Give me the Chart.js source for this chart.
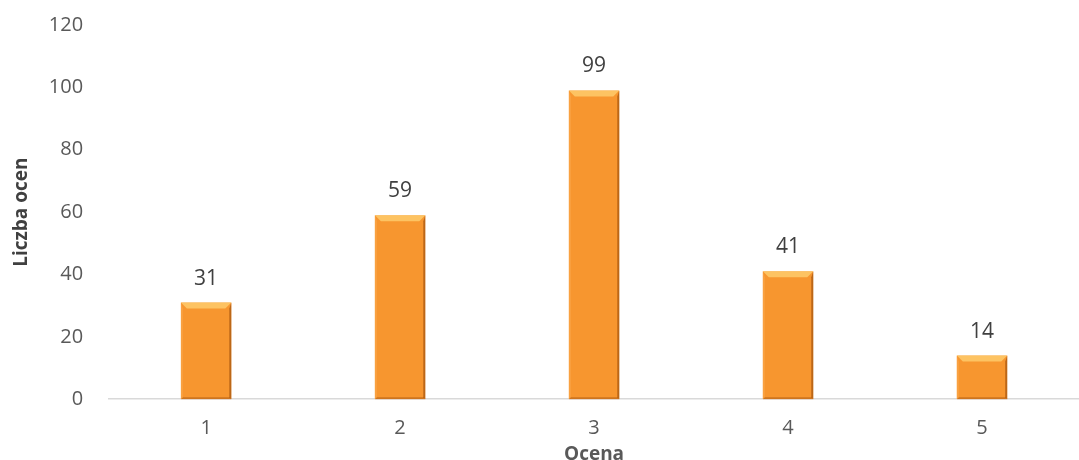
<!DOCTYPE html>
<html>
<head>
<meta charset="utf-8">
<script src="https://cdn.jsdelivr.net/npm/chart.js@4"></script>
<style>
  html, body { margin: 0; padding: 0; background: #fff; }
  #wrap { width: 1079px; height: 460px; }
</style>
</head>
<body>
<div id="wrap"><canvas id="chart"></canvas></div>
<script>
// data
var grades = ['1', '2', '3', '4', '5'];
var counts = [31, 59, 99, 41, 14];
var yTicks = [0, 20, 40, 60, 80, 100, 120];

var FONT = "'Open Sans', 'Noto Sans', sans-serif";

// bevel look on the bars, drawn on top of the library's bars
var bevelPlugin = {
  id: 'bevel',
  afterDatasetsDraw: function(chart) {
    var ctx = chart.ctx;
    chart.getDatasetMeta(0).data.forEach(function(bar) {
      var w = bar.width, l = bar.x - w / 2, r = bar.x + w / 2;
      var t = bar.y, b = bar.base, e = 6;
      ctx.save();
      // top edge, light
      ctx.fillStyle = 'rgba(255,214,120,0.7)';
      ctx.beginPath();
      ctx.moveTo(l, t); ctx.lineTo(r, t); ctx.lineTo(r - e, t + e); ctx.lineTo(l + e, t + e);
      ctx.closePath(); ctx.fill();
      // left edge
      ctx.fillStyle = 'rgba(255,190,110,0.3)';
      ctx.beginPath();
      ctx.moveTo(l, t); ctx.lineTo(l + 2, t + e); ctx.lineTo(l + 2, b - 2); ctx.lineTo(l, b);
      ctx.closePath(); ctx.fill();
      // right edge, dark
      ctx.fillStyle = 'rgba(130,55,0,0.5)';
      ctx.beginPath();
      ctx.moveTo(r, t); ctx.lineTo(r - 2, t + e); ctx.lineTo(r - 2, b - 2); ctx.lineTo(r, b);
      ctx.closePath(); ctx.fill();
      // bottom edge, dark
      ctx.fillStyle = 'rgba(130,55,0,0.35)';
      ctx.beginPath();
      ctx.moveTo(l, b); ctx.lineTo(r, b); ctx.lineTo(r - 2, b - 2); ctx.lineTo(l + 2, b - 2);
      ctx.closePath(); ctx.fill();
      ctx.restore();
    });
  }
};

// value labels above bars
var valueLabels = {
  id: 'valueLabels',
  afterDatasetsDraw: function(chart) {
    var ctx = chart.ctx;
    var ds = chart.data.datasets[0];
    ctx.save();
    ctx.font = '21px ' + FONT;
    ctx.fillStyle = '#404040';
    ctx.textAlign = 'center';
    ctx.textBaseline = 'middle';
    chart.getDatasetMeta(0).data.forEach(function(bar, i) {
      ctx.fillText(ds.data[i], bar.x, bar.y - 24);
    });
    ctx.restore();
  }
};

var ctx = document.getElementById('chart').getContext('2d');

function barFill(context) {
  var bar = context.element;
  if (!context.chart.chartArea || !bar || bar.base === undefined) return '#F7962F';
  var g = context.chart.ctx.createLinearGradient(0, bar.y, 0, bar.base);
  g.addColorStop(0, '#FC9D35');
  g.addColorStop(1, '#EF8B25');
  return g;
}

new Chart(ctx, {
  type: 'bar',
  data: {
    labels: grades,
    datasets: [{
      data: counts,
      backgroundColor: barFill,
      borderWidth: 0,
      barPercentage: 0.52,
      categoryPercentage: 0.5
    }]
  },
  options: {
    responsive: true,
    maintainAspectRatio: false,
    animation: false,
    layout: { padding: { top: 25, right: 0, left: 9, bottom: -6 } },
    plugins: {
      legend: { display: false },
      tooltip: { enabled: false }
    },
    scales: {
      x: {
        grid: { display: false, drawTicks: false },
        border: { display: true, color: '#d9d9d9', width: 1.5 },
        ticks: { color: '#595959', font: { family: FONT, size: 20 }, padding: 17 },
        title: {
          display: true, text: 'Ocena', color: '#595959',
          font: { family: FONT, size: 19, weight: 'bold' }, padding: { top: -14, bottom: 0 }
        }
      },
      y: {
        min: 0, max: 120,
        afterBuildTicks: function(scale) {
          scale.ticks = yTicks.map(function(v) { return { value: v }; });
        },
        // keep the wide label gap from pushing the plot down
        afterFit: function(scale) {
          scale.paddingTop = 12;
        },
        grid: { display: false, drawTicks: false },
        border: { display: false },
        ticks: { color: '#595959', font: { family: FONT, size: 20 }, padding: 26 },
        title: {
          display: true, text: 'Liczba ocen', color: '#404040',
          font: { family: FONT, size: 19, weight: 'bold' }, padding: { top: 1, bottom: -10 }
        }
      }
    }
  },
  plugins: [bevelPlugin, valueLabels]
});
</script>
</body>
</html>
